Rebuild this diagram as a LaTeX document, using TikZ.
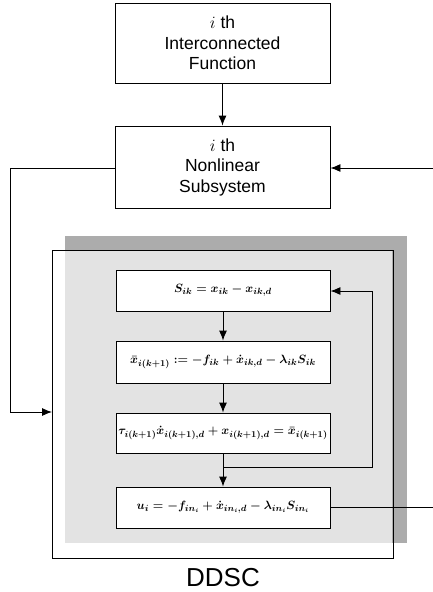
\documentclass[tikz,border=0pt]{standalone}
\usepackage{fontspec}
\setmainfont{Liberation Sans}
\usetikzlibrary{arrows.meta}
\tikzset{
  blk/.style={draw=black, line width=0.9pt, fill=white, align=center, inner sep=0pt,
    font=\fontsize{17.5}{20.5}\selectfont},
  eqbox/.style={draw=black, line width=0.9pt, fill=white, inner sep=0pt,
    minimum width=214pt, font=\fontsize{12.8}{15}\selectfont\boldmath},
  conn/.style={line width=0.9pt, -{Latex[length=10pt,width=8pt]}},
  plain/.style={line width=0.9pt},
}
\begin{document}
\begin{tikzpicture}[x=1pt,y=-1pt]
\useasboundingbox (0,0) rectangle (433,592);
% shadow of DDSC block
\fill[gray!65] (65,236) rectangle (407,543);
\fill[gray!22] (65,250) rectangle (392,543);
\node[draw=black, line width=0.9pt, minimum width=341pt, minimum height=308pt, inner sep=0pt] (frame) at (222.5,404) {};
% upper blocks
\node[blk, minimum width=215pt, minimum height=80pt] (ifun) at (222.5,43) {$i$ th\\Interconnected\\Function};
\node[blk, minimum width=215pt, minimum height=82pt] (sub) at (222.5,167) {$i$ th\\Nonlinear\\Subsystem};
% equation blocks
\node[eqbox, minimum height=41pt] (b1) at (223,290.5) {$S_{ik} = x_{ik} - x_{ik,d}$};
\node[eqbox, minimum height=42pt] (b2) at (223,362) {$\bar{x}_{i(k+1)} := -f_{ik} + \dot{x}_{ik,d} - \lambda_{ik} S_{ik}$};
\node[eqbox, minimum height=40pt] (b3) at (223,433) {$\tau_{i(k+1)}\dot{x}_{i(k+1),d} + x_{i(k+1),d} = \bar{x}_{i(k+1)}$};
\node[eqbox, minimum height=41pt] (b4) at (223,507.5) {$u_i = -f_{in_i} + \dot{x}_{in_i,d} - \lambda_{in_i} S_{in_i}$};
\node[font=\fontsize{26}{30}\selectfont] (ddsc) at (223,578) {DDSC};
% coordinates
\coordinate (lin) at (52,412);
\coordinate (rin) at (433,168);
\coordinate (rout) at (433,507.5);
\coordinate (br) at (223,467);
% connectors
\draw[conn] (ifun) -- (sub);
\draw[conn] (sub.west |- 0,168) -- (10,168) -- (10,412) -- (lin);
\draw[conn] (rin) -- (sub.east |- rin);
\draw[conn] (b1) -- (b2);
\draw[conn] (b2) -- (b3);
\draw[conn] (b3) -- (b4);
\draw[conn] (br) -- (372,467) -- (372,291) -- (b1.east |- 0,291);
\draw[plain] (b4.east) -- (rout);
\end{tikzpicture}
\end{document}
